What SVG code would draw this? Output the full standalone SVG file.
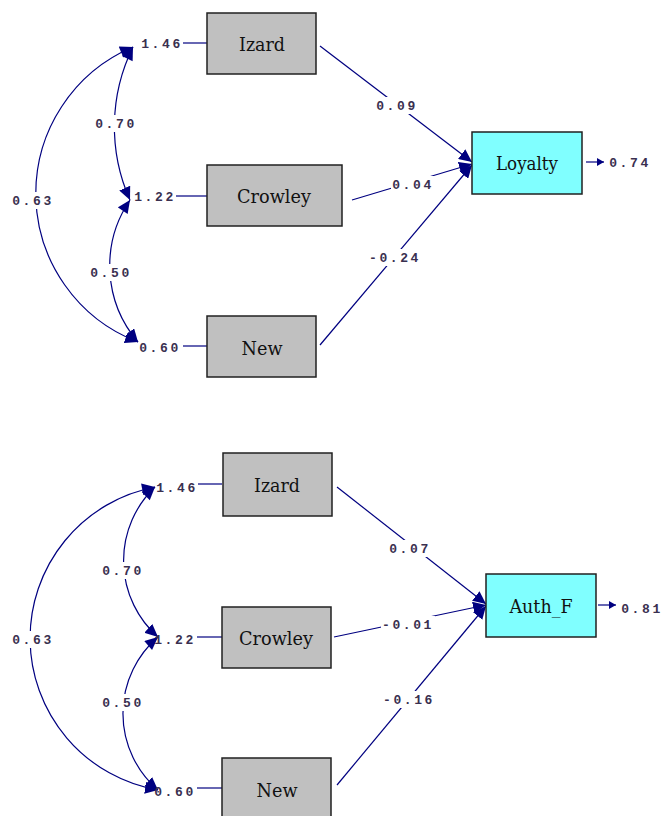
<svg xmlns="http://www.w3.org/2000/svg" width="665" height="816" viewBox="0 0 665 816">
<style>
.obs{fill:#c0c0c0;stroke:#202020;stroke-width:1.5}
.lat{fill:#80ffff;stroke:#202020;stroke-width:1.5}
.nt{font-family:"DejaVu Serif",serif;font-size:19px;fill:#111;text-anchor:middle}
.lb{font-family:"Liberation Mono",monospace;font-size:13px;font-weight:bold;fill:#3a3050;letter-spacing:2.6px;text-anchor:middle}
.bg{fill:#fff}
.ln{fill:none;stroke:#000080;stroke-width:1.2}
.ar{fill:none;stroke:#000080;stroke-width:1.2;marker-end:url(#ah)}
.cv{fill:none;stroke:#000080;stroke-width:1.2;marker-start:url(#ahs);marker-end:url(#ah)}
</style>
<defs>
<marker id="ah" markerUnits="userSpaceOnUse" markerWidth="14" markerHeight="12" refX="13" refY="6" orient="auto"><path d="M0,0 L13,6 L0,12 Z" fill="#000080"/></marker>
<marker id="ahs" markerUnits="userSpaceOnUse" markerWidth="14" markerHeight="12" refX="0" refY="6" orient="auto"><path d="M13,0 L0,6 L13,12 Z" fill="#000080"/></marker>
<marker id="sm" markerUnits="userSpaceOnUse" markerWidth="8" markerHeight="8" refX="7" refY="4" orient="auto"><path d="M0,0 L7,4 L0,8 Z" fill="#000080"/></marker>
</defs>
<rect width="665" height="816" fill="#fff"/>
<g id="connectors">
<line class="ln" x1="183" y1="43" x2="207" y2="43"/>
<line class="ln" x1="176" y1="196" x2="207" y2="196"/>
<line class="ln" x1="183" y1="346" x2="207" y2="346"/>
<path class="cv" d="M133,47 A180,180 0 0 0 130,200"/>
<path class="cv" d="M130,200 A117,117 0 0 0 138,342"/>
<path class="cv" d="M133,47 A159,159 0 0 0 138,342"/>
<line class="ar" x1="320" y1="46" x2="472" y2="162"/>
<line class="ar" x1="352" y1="200" x2="472" y2="164"/>
<line class="ar" x1="320" y1="345" x2="472" y2="165"/>
<line class="ln" x1="586" y1="162" x2="604" y2="162" style="marker-end:url(#sm)"/>
<line class="ln" x1="198" y1="484" x2="222" y2="484"/>
<line class="ln" x1="197" y1="637" x2="222" y2="637"/>
<line class="ln" x1="197" y1="788" x2="222" y2="788"/>
<path class="cv" d="M155,487 A102,102 0 0 0 158,637"/>
<path class="cv" d="M158,637 A101,101 0 0 0 158,790"/>
<path class="cv" d="M155,487 A154,154 0 0 0 158,790"/>
<line class="ar" x1="337" y1="487" x2="486" y2="604"/>
<line class="ar" x1="334" y1="637" x2="486" y2="605"/>
<line class="ar" x1="337" y1="785" x2="486" y2="606"/>
<line class="ln" x1="598" y1="605" x2="616" y2="605" style="marker-end:url(#sm)"/>
</g>
<g id="labels">
<rect class="bg" x="94" y="115" width="44" height="17"/>
<rect class="bg" x="89" y="264" width="44" height="17"/>
<rect class="bg" x="11" y="192" width="44" height="17"/>
<rect class="bg" x="375" y="97" width="44" height="17"/>
<rect class="bg" x="391" y="176" width="44" height="17"/>
<rect class="bg" x="368" y="249" width="54" height="17"/>
<rect class="bg" x="101" y="562" width="44" height="17"/>
<rect class="bg" x="101" y="694" width="44" height="17"/>
<rect class="bg" x="11" y="631" width="44" height="17"/>
<rect class="bg" x="388" y="540" width="44" height="17"/>
<rect class="bg" x="381" y="616" width="54" height="17"/>
<rect class="bg" x="382" y="691" width="54" height="17"/>
<text class="lb" x="162" y="48">1.46</text>
<text class="lb" x="155" y="201">1.22</text>
<text class="lb" x="160" y="352">0.60</text>
<text class="lb" x="116" y="128">0.70</text>
<text class="lb" x="111" y="277">0.50</text>
<text class="lb" x="33" y="205">0.63</text>
<text class="lb" x="397" y="110">0.09</text>
<text class="lb" x="413" y="189">0.04</text>
<text class="lb" x="395" y="262">-0.24</text>
<text class="lb" x="630" y="167">0.74</text>
<text class="lb" x="177" y="492">1.46</text>
<text class="lb" x="175" y="644">1.22</text>
<text class="lb" x="175" y="796">0.60</text>
<text class="lb" x="123" y="575">0.70</text>
<text class="lb" x="123" y="707">0.50</text>
<text class="lb" x="33" y="644">0.63</text>
<text class="lb" x="410" y="553">0.07</text>
<text class="lb" x="408" y="629">-0.01</text>
<text class="lb" x="409" y="704">-0.16</text>
<text class="lb" x="642" y="613">0.81</text>
</g>
<g id="izard1"><rect class="obs" x="207" y="13" width="109" height="61"/><text class="nt" x="262" y="51" textLength="46" lengthAdjust="spacingAndGlyphs">Izard</text></g>
<g id="crowley1"><rect class="obs" x="207" y="165" width="135" height="61"/><text class="nt" x="274" y="203" textLength="74" lengthAdjust="spacingAndGlyphs">Crowley</text></g>
<g id="new1"><rect class="obs" x="207" y="316" width="109" height="61"/><text class="nt" x="262" y="355" textLength="41" lengthAdjust="spacingAndGlyphs">New</text></g>
<g id="loyalty"><rect class="lat" x="472" y="132" width="110" height="62"/><text class="nt" x="527" y="170" textLength="62" lengthAdjust="spacingAndGlyphs">Loyalty</text></g>
<g id="izard2"><rect class="obs" x="223" y="453" width="109" height="63"/><text class="nt" x="277" y="492" textLength="46" lengthAdjust="spacingAndGlyphs">Izard</text></g>
<g id="crowley2"><rect class="obs" x="222" y="607" width="109" height="61"/><text class="nt" x="276" y="645" textLength="74" lengthAdjust="spacingAndGlyphs">Crowley</text></g>
<g id="new2"><rect class="obs" x="222" y="758" width="109" height="63"/><text class="nt" x="277" y="797" textLength="41" lengthAdjust="spacingAndGlyphs">New</text></g>
<g id="authf"><rect class="lat" x="486" y="574" width="110" height="63"/><text class="nt" x="541" y="613" textLength="63" lengthAdjust="spacingAndGlyphs">Auth_F</text></g>
</svg>
